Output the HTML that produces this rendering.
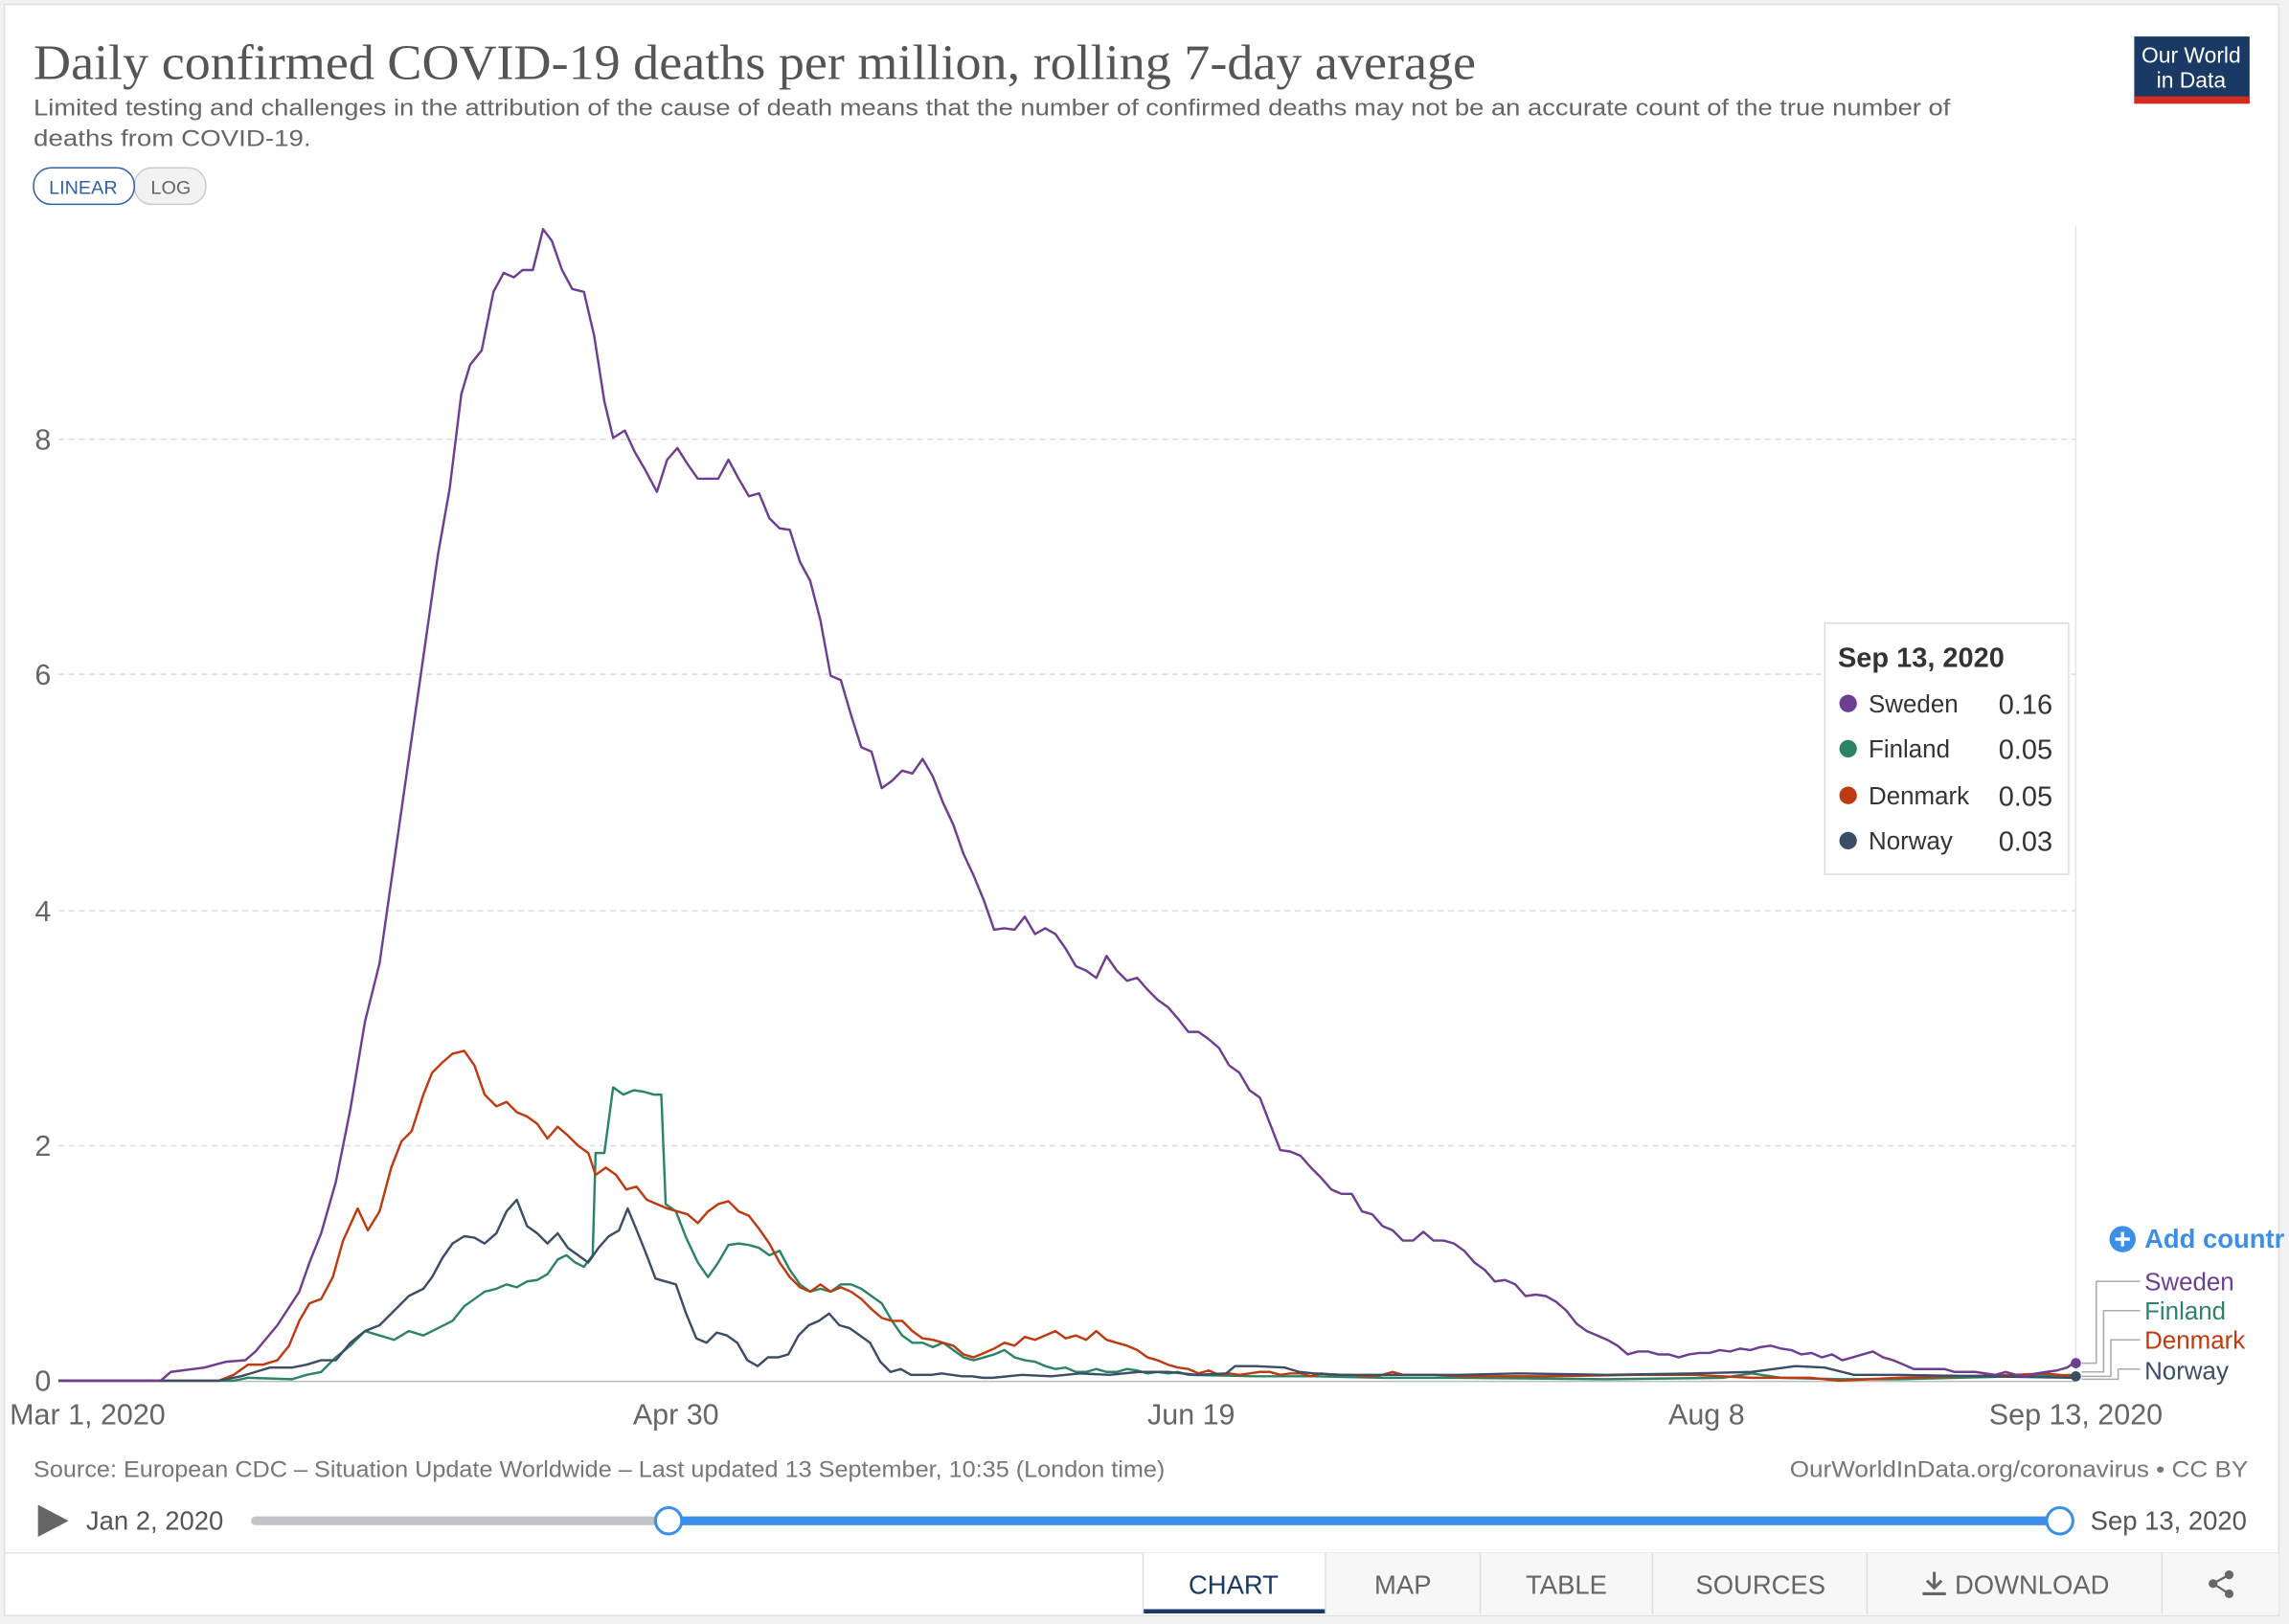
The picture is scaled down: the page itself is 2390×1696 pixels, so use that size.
<!DOCTYPE html>
<html><head><meta charset="utf-8"><style>
html,body{margin:0;padding:0;background:#fff;}
svg{display:block;}
text{font-family:"Liberation Sans",sans-serif;}
</style></head><body>
<svg width="2390" height="1696" viewBox="0 0 1568 1112.7" xmlns="http://www.w3.org/2000/svg">
<rect x="0" y="0" width="1568" height="1112.7" fill="#f2f2f2"/>
<rect x="3" y="3" width="1558" height="1104" fill="#fff" stroke="#e0e0e0"/>
<text x="23" y="54" style="font-family:'Liberation Serif',serif" font-size="34" fill="#555" textLength="988" lengthAdjust="spacingAndGlyphs">Daily confirmed COVID-19 deaths per million, rolling 7-day average</text>
<text x="23" y="79" font-size="16" fill="#666" textLength="1313" lengthAdjust="spacingAndGlyphs">Limited testing and challenges in the attribution of the cause of death means that the number of confirmed deaths may not be an accurate count of the true number of</text>
<text x="23" y="100" font-size="16" fill="#666" textLength="190" lengthAdjust="spacingAndGlyphs">deaths from COVID-19.</text>
<rect x="1462" y="25" width="79" height="46" fill="#1a3965"/>
<rect x="1462" y="66" width="79" height="5" fill="#d42b21"/>
<text x="1501" y="43" font-size="15" fill="#fff" text-anchor="middle">Our World</text>
<text x="1501" y="60" font-size="15" fill="#fff" text-anchor="middle">in Data</text>
<rect x="92" y="115" width="49" height="25" rx="12" fill="#f2f2f2" stroke="#ccc"/>
<rect x="23" y="115" width="69" height="25" rx="12" fill="#fff" stroke="#3360a9"/>
<text x="57" y="133" font-size="13" fill="#3360a9" text-anchor="middle">LINEAR</text>
<text x="117" y="133" font-size="13" fill="#666" text-anchor="middle">LOG</text>
<g stroke="#ddd" stroke-dasharray="4,3" stroke-width="1">
<line x1="40" y1="785" x2="1422" y2="785"/><line x1="40" y1="624" x2="1422" y2="624"/>
<line x1="40" y1="462" x2="1422" y2="462"/><line x1="40" y1="301" x2="1422" y2="301"/>
</g>
<line x1="1422" y1="155" x2="1422" y2="946" stroke="#e5e5e5"/>
<line x1="40" y1="946.5" x2="1422" y2="946.5" stroke="#bbb"/>
<g font-size="20" fill="#666">
<text x="35" y="953" text-anchor="end">0</text><text x="35" y="792" text-anchor="end">2</text>
<text x="35" y="631" text-anchor="end">4</text><text x="35" y="469" text-anchor="end">6</text>
<text x="35" y="308" text-anchor="end">8</text>
<text x="60" y="976" text-anchor="middle">Mar 1, 2020</text><text x="463" y="976" text-anchor="middle">Apr 30</text>
<text x="816" y="976" text-anchor="middle">Jun 19</text><text x="1169" y="976" text-anchor="middle">Aug 8</text>
<text x="1422" y="976" text-anchor="middle">Sep 13, 2020</text>
</g>
<g fill="none" stroke-width="1.6" stroke-linejoin="round">
<polyline stroke="#2c8465" points="40,946 160,946 170,944 200,945 210,942 220,940 230,930 240,922 250,912 260,915 270,918 280,912 290,915 300,910 310,905 318,895 325,890 332,885 340,883 347,880 354,882 361,878 368,877 375,873 382,863 388,860 394,865 400,868 406,860 408,790 414,790 420,745 427,750 434,747 441,748 448,750 453,750 456,825 463,830 470,848 478,865 485,875 492,865 499,853 506,852 513,853 520,855 527,860 534,857 541,870 548,880 555,885 562,883 569,885 576,880 583,880 590,883 597,888 604,893 611,905 618,915 625,920 632,920 639,923 646,920 653,925 660,930 667,932 674,930 681,928 688,925 695,930 702,932 709,933 716,936 723,938 730,937 737,940 744,940 751,938 758,940 765,940 772,938 779,939 786,941 793,940 800,941 807,940 814,942 860,943 900,943 950,944 1000,944 1100,945 1180,944 1200,941 1220,944 1260,945 1300,945 1422,942"/>
<polyline stroke="#be3a10" points="40,946 150,946 160,942 170,935 180,935 190,932 198,922 205,905 212,893 220,890 228,875 235,850 245,828 252,843 260,830 268,800 275,782 282,775 290,750 296,735 303,728 310,722 318,720 325,730 332,750 340,758 347,755 354,762 361,765 368,770 375,780 382,772 389,778 396,785 403,790 408,805 415,800 422,805 429,815 436,813 443,822 450,825 457,828 464,830 471,832 478,838 485,830 492,825 499,823 506,830 513,833 520,842 527,852 534,865 541,875 548,882 555,885 562,880 569,885 576,882 583,885 590,890 597,897 604,903 611,905 618,905 625,912 632,917 639,918 646,920 653,922 660,928 667,930 674,927 681,924 688,920 695,922 702,916 709,918 716,915 723,912 730,917 737,915 744,918 751,912 758,918 765,920 772,922 779,925 786,930 793,932 800,935 807,937 814,938 821,941 828,939 835,942 842,941 849,942 856,941 863,940 870,940 877,942 884,941 891,941 898,943 905,941 912,942 919,942 926,942 933,943 940,943 947,942 954,940 961,942 968,942 975,942 982,942 1000,943 1060,943 1120,942 1160,942 1200,944 1240,944 1260,946 1300,944 1340,943 1380,942 1400,941 1422,943"/>
<polyline stroke="#3c4e66" points="40,946 150,946 165,943 175,940 185,937 200,937 210,935 220,932 230,932 240,920 250,912 260,908 270,898 280,888 290,883 296,875 303,862 310,852 318,847 325,848 332,852 340,845 347,830 354,822 361,840 368,845 375,852 382,845 389,855 396,860 403,865 410,855 417,847 424,843 430,828 437,845 443,860 449,876 456,878 463,880 470,900 477,917 484,920 491,913 498,915 505,920 512,932 519,936 526,930 533,930 540,928 547,915 554,908 561,905 568,900 575,908 582,910 589,915 596,920 603,933 610,940 617,938 624,942 631,942 638,942 645,941 652,942 659,943 666,943 673,944 680,944 700,942 720,943 740,941 760,942 780,940 800,940 820,942 840,941 846,936 860,936 880,937 890,940 900,941 920,942 960,942 1000,942 1040,941 1100,942 1160,941 1200,940 1230,936 1250,937 1270,942 1300,942 1422,944"/>
<polyline stroke="#6d3e91" points="40,946 110,946 117,940 140,937 155,933 168,932 175,926 190,908 205,885 212,865 220,845 230,810 240,760 250,700 260,660 270,590 280,520 290,450 300,380 308,335 316,270 322,250 330,240 338,200 345,187 352,190 358,185 365,185 372,157 378,165 385,185 392,198 400,200 407,230 414,275 420,300 428,295 435,310 442,322 450,337 457,315 464,307 471,318 478,328 485,328 492,328 499,315 506,328 513,340 520,338 527,355 534,362 541,363 548,385 555,398 562,425 569,463 576,466 583,490 590,512 597,515 604,540 611,535 618,528 625,530 632,520 639,532 646,550 653,565 660,585 667,600 674,617 681,637 688,636 695,637 702,628 709,640 716,636 723,640 730,650 737,662 744,665 751,670 758,655 765,665 772,672 779,670 786,678 793,685 800,690 807,698 814,707 821,707 828,712 835,718 842,730 849,735 856,747 863,752 870,770 877,788 884,789 891,792 898,800 905,807 912,815 919,818 926,818 933,830 940,832 947,840 954,843 961,850 968,850 975,844 982,850 989,850 996,852 1003,857 1010,865 1017,870 1024,878 1031,877 1038,880 1045,888 1052,887 1059,888 1066,892 1073,898 1080,907 1087,912 1094,915 1101,918 1108,922 1115,928 1122,926 1129,926 1136,928 1143,928 1150,930 1157,928 1164,927 1171,927 1178,925 1185,926 1192,924 1199,925 1206,923 1213,922 1220,924 1227,925 1234,928 1241,927 1248,930 1255,928 1262,932 1269,930 1276,928 1283,926 1290,930 1297,932 1304,935 1311,938 1318,938 1325,938 1332,938 1339,940 1346,940 1353,940 1360,941 1367,942 1374,940 1381,942 1388,943 1395,941 1402,940 1409,939 1416,937 1422,933"/>
</g>
<circle cx="1422" cy="934" r="3.5" fill="#6d3e91"/><circle cx="1422" cy="943" r="3.5" fill="#3c4e66"/>
<g stroke="#aaa" fill="none" stroke-width="1">
<polyline points="1426,934 1436,934 1436,878 1466,878"/>
<polyline points="1426,940 1441,940 1441,898 1466,898"/>
<polyline points="1426,943 1446,943 1446,918 1466,918"/>
<polyline points="1426,945 1451,945 1451,938 1466,938"/>
</g>
<g font-size="17">
<text x="1469" y="884" fill="#6d3e91">Sweden</text><text x="1469" y="904" fill="#2c8465">Finland</text>
<text x="1469" y="924" fill="#be3a10">Denmark</text><text x="1469" y="945" fill="#3c4e66">Norway</text>
</g>
<circle cx="1454" cy="849" r="9" fill="#3c8fe8"/>
<path d="M1449,849h10M1454,844v10" stroke="#fff" stroke-width="2.2"/>
<text x="1469" y="855" font-size="18" font-weight="bold" fill="#3c8fe8">Add countr</text>
<rect x="1250" y="427" width="167" height="172" fill="#fff" stroke="#ddd"/>
<text x="1259" y="457" font-size="19" font-weight="bold" fill="#333">Sep 13, 2020</text>
<g font-size="17" fill="#333">
<circle cx="1266" cy="482" r="6" fill="#6d3e91"/><text x="1280" y="488">Sweden</text><text x="1406" y="489" text-anchor="end" font-size="19">0.16</text>
<circle cx="1266" cy="513" r="6" fill="#2c8465"/><text x="1280" y="519">Finland</text><text x="1406" y="520" text-anchor="end" font-size="19">0.05</text>
<circle cx="1266" cy="545" r="6" fill="#be3a10"/><text x="1280" y="551">Denmark</text><text x="1406" y="552" text-anchor="end" font-size="19">0.05</text>
<circle cx="1266" cy="576" r="6" fill="#3c4e66"/><text x="1280" y="582">Norway</text><text x="1406" y="583" text-anchor="end" font-size="19">0.03</text>
</g>
<text x="23" y="1012" font-size="16" fill="#777" textLength="775" lengthAdjust="spacingAndGlyphs">Source: European CDC – Situation Update Worldwide – Last updated 13 September, 10:35 (London time)</text>
<text x="1226" y="1012" font-size="16" fill="#777" textLength="314" lengthAdjust="spacingAndGlyphs">OurWorldInData.org/coronavirus • CC BY</text>
<path d="M26,1031 L47,1042 L26,1053Z" fill="#666"/>
<text x="59" y="1048" font-size="18" fill="#555">Jan 2, 2020</text>
<rect x="172" y="1039" width="1240" height="6" rx="3" fill="#c0c4c8"/>
<rect x="458" y="1039" width="954" height="6" fill="#3c8fe8"/>
<circle cx="458" cy="1042" r="9" fill="#fff" stroke="#3c8fe8" stroke-width="2"/>
<circle cx="1411" cy="1042" r="9" fill="#fff" stroke="#3c8fe8" stroke-width="2"/>
<text x="1432" y="1048" font-size="18" fill="#555">Sep 13, 2020</text>
<line x1="3" y1="1064" x2="1561" y2="1064" stroke="#e5e5e5"/>
<rect x="783" y="1064" width="778" height="42" fill="#f7f7f7"/>
<rect x="783" y="1064" width="125" height="42" fill="#fff"/>
<line x1="783" y1="1104" x2="908" y2="1104" stroke="#1a3965" stroke-width="3"/>
<g stroke="#e0e0e0"><line x1="783" y1="1064" x2="783" y2="1106"/><line x1="908" y1="1064" x2="908" y2="1106"/><line x1="1014" y1="1064" x2="1014" y2="1106"/><line x1="1132" y1="1064" x2="1132" y2="1106"/><line x1="1279" y1="1064" x2="1279" y2="1106"/><line x1="1481" y1="1064" x2="1481" y2="1106"/></g>
<g font-size="18" fill="#666" text-anchor="middle">
<text x="845" y="1092" fill="#1a3965">CHART</text><text x="961" y="1092">MAP</text><text x="1073" y="1092">TABLE</text>
<text x="1206" y="1092">SOURCES</text><text x="1392" y="1092">DOWNLOAD</text>
</g>
<path d="M1317,1092h16M1325,1077v11M1320,1083l5,5l5-5" stroke="#666" stroke-width="2" fill="none"/>
<g fill="#666"><circle cx="1527" cy="1079" r="3"/><circle cx="1527" cy="1092" r="3"/><circle cx="1516" cy="1085" r="3"/></g>
<path d="M1527,1079L1516,1085L1527,1092" stroke="#666" stroke-width="1.5" fill="none"/>
</svg>
</body></html>
